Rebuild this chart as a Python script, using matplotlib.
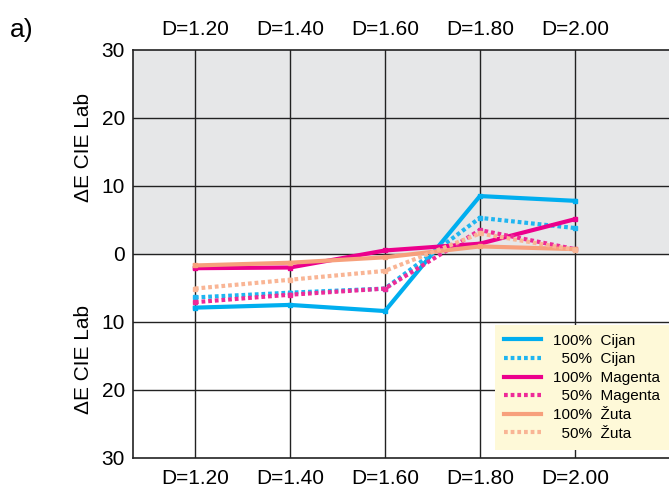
import matplotlib.pyplot as plt
from matplotlib.ticker import FuncFormatter

plt.rcParams['font.family'] = ['Liberation Sans Narrow', 'Liberation Sans', 'DejaVu Sans']

categories = ["D=1.20", "D=1.40", "D=1.60", "D=1.80", "D=2.00"]
cijan_100 = [-7.9, -7.5, -8.4, 8.5, 7.8]
cijan_50 = [-6.4, -5.7, -5.1, 5.3, 3.8]
magenta_100 = [-2.1, -2.0, 0.5, 1.5, 5.1]
magenta_50 = [-7.1, -6.0, -5.1, 3.5, 0.7]
zuta_100 = [-1.7, -1.3, -0.5, 1.1, 0.7]
zuta_50 = [-5.1, -3.8, -2.5, 3.0, 0.6]

series = [
    ("100%  Cijan", cijan_100, "#00aeef", "-"),
    ("  50%  Cijan", cijan_50, "#1fb5f0", (0, (0.9, 0.7))),
    ("100%  Magenta", magenta_100, "#ec008c", "-"),
    ("  50%  Magenta", magenta_50, "#ee2a98", (0, (0.9, 0.7))),
    ("100%  Žuta", zuta_100, "#f7a07c", "-"),
    ("  50%  Žuta", zuta_50, "#f9b595", (0, (0.9, 0.7))),
]

fig = plt.figure(figsize=(6.69, 4.93), dpi=100)
ax = fig.add_axes([0.199, 0.071, 0.801, 0.828])

x = list(range(len(categories)))
ax.axhspan(0, 30, color="#e6e7e8", zorder=0)
for xi in x:
    ax.axvline(xi, color="#222222", lw=1, zorder=1)
for yv in [-20, -10, 0, 10, 20]:
    ax.axhline(yv, color="#222222", lw=1, zorder=1)

for label, vals, col, ls in series:
    ax.plot(x, vals, color=col, linestyle=ls, lw=3, marker="s", markersize=3.5,
            label=label, zorder=3)

ax.set_xlim(-0.65, 4.99)
ax.set_ylim(-30, 30)
ax.set_xticks(x)
ax.set_xticklabels(categories)
ax.set_yticks([-30, -20, -10, 0, 10, 20, 30])
ax.yaxis.set_major_formatter(FuncFormatter(lambda v, p: f"{abs(v):.0f}"))
ax.tick_params(axis="x", length=0, labeltop=True, labelsize=15, pad=8)
ax.tick_params(axis="y", length=0, labelsize=15, pad=6)
ax.spines["right"].set_visible(False)
for s in ["left", "bottom", "top"]:
    ax.spines[s].set_color("#222222")
    ax.spines[s].set_linewidth(1.2)

fig.text(0.125, 0.70, "ΔE CIE Lab", rotation=90, ha="center", va="center", fontsize=15)
fig.text(0.125, 0.27, "ΔE CIE Lab", rotation=90, ha="center", va="center", fontsize=15)
fig.text(0.015, 0.94, "a)", fontsize=19, ha="left", va="center")

leg = ax.legend(loc="lower right", bbox_to_anchor=(1.0, 0.02), fontsize=11,
                frameon=True, fancybox=False, handlelength=2.4, labelspacing=0.3,
                borderpad=0.6, handletextpad=0.8, borderaxespad=0)
leg.get_frame().set_facecolor("#fef9d8")
leg.get_frame().set_edgecolor("none")
leg.get_frame().set_alpha(1)
for ln in leg.get_lines():
    ln.set_marker("")

fig.savefig("out.png", dpi=100)
